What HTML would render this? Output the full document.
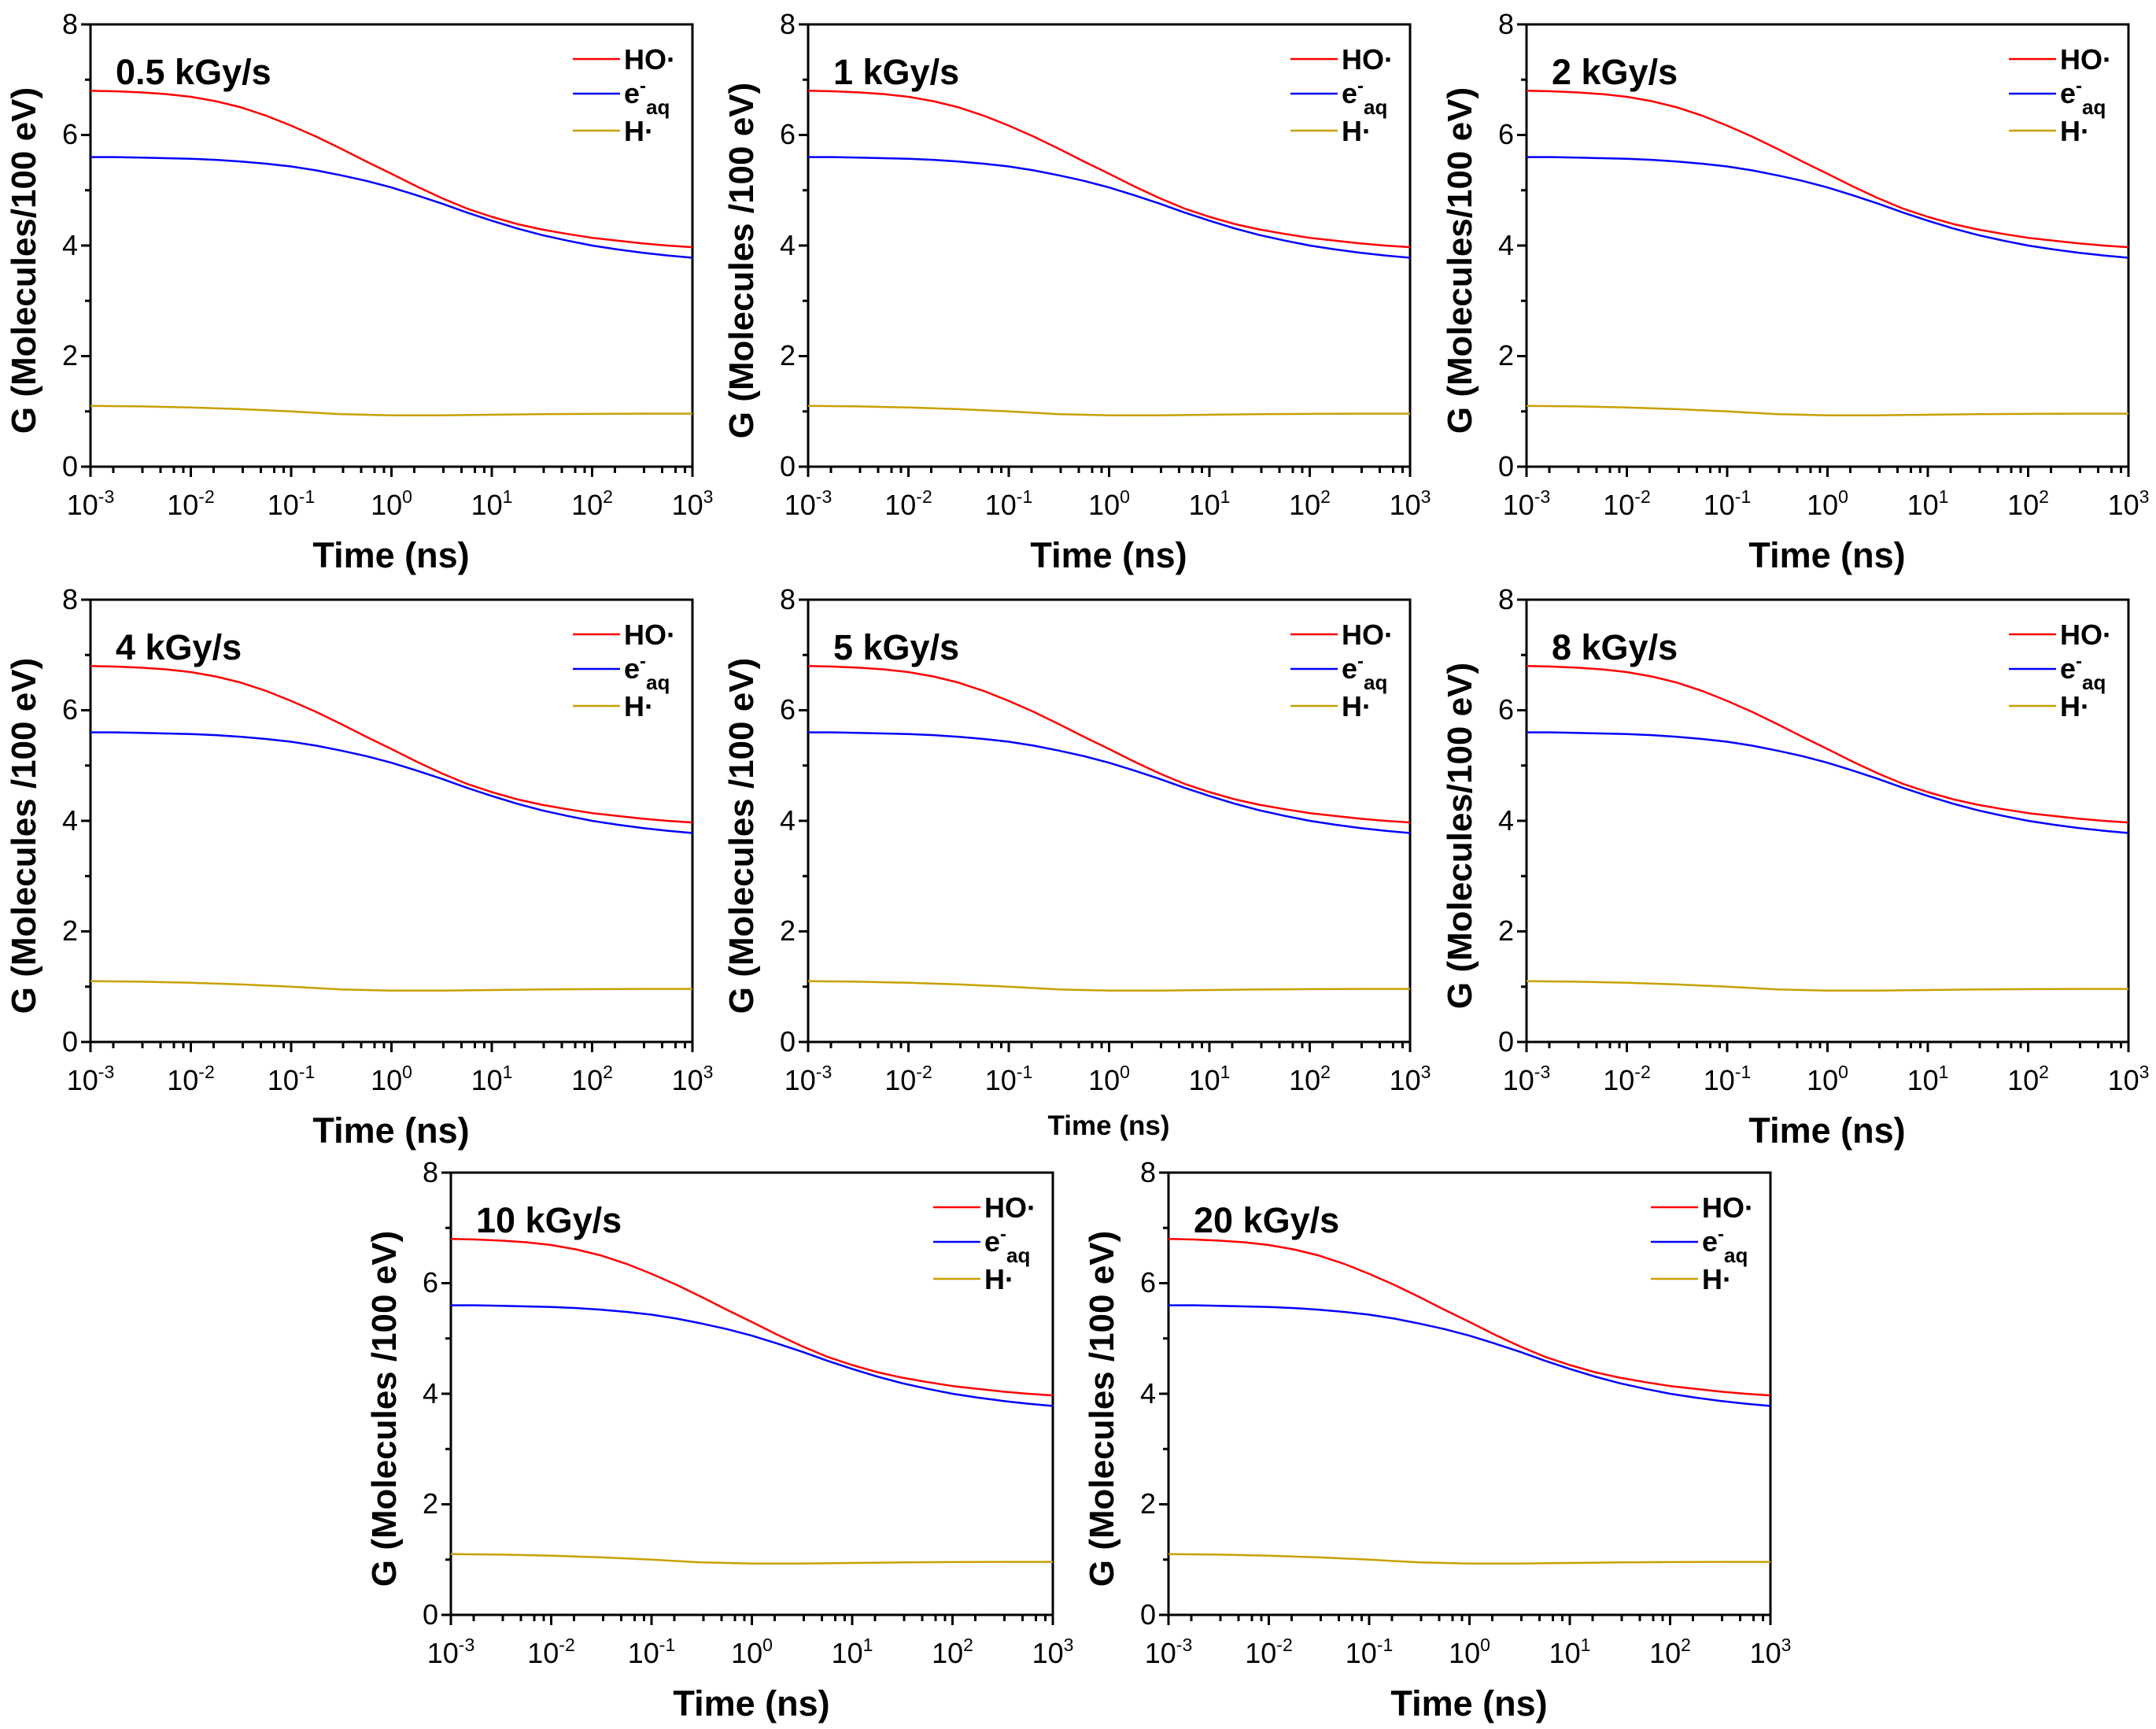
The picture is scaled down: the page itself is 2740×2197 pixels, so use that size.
<!DOCTYPE html>
<html><head><meta charset="utf-8"><style>
html,body{margin:0;padding:0;background:#fff}
svg{display:block;font-family:"Liberation Sans",Arial,sans-serif}
.tl{font-size:36px;fill:#000}
.ax{font-size:45px;font-weight:bold}
.yl{font-size:44px;font-weight:bold}
.lg{font-size:36px;font-weight:bold}
</style></head><body>
<svg width="2740" height="2197" viewBox="0 0 2740 2197" xmlns="http://www.w3.org/2000/svg">
<defs>
<g id="frame">
<rect x="0" y="0" width="765" height="562" fill="none" stroke="#000" stroke-width="3"/>
<path d="M0 0h-12M0 70.25h-7M0 140.5h-12M0 210.75h-7M0 281h-12M0 351.25h-7M0 421.5h-12M0 491.75h-7M0 562h-12" stroke="#000" stroke-width="3"/>
<path d="M0 562v13M127.5 562v13M255 562v13M382.5 562v13M510 562v13M637.5 562v13M765 562v13
M29 562v8M66 562v8M89 562v8M106 562v8M118 562v8
M156.5 562v8M193.5 562v8M216.5 562v8M233.5 562v8M245.5 562v8
M284 562v8M321 562v8M344 562v8M361 562v8M373 562v8
M411.5 562v8M448.5 562v8M471.5 562v8M488.5 562v8M500.5 562v8
M539 562v8M576 562v8M599 562v8M616 562v8M628 562v8
M666.5 562v8M703.5 562v8M726.5 562v8M743.5 562v8M755.5 562v8" stroke="#000" stroke-width="3"/>
<g class="tl" text-anchor="end">
<text x="-16" y="574">0</text><text x="-16" y="293">4</text><text x="-16" y="433">2</text><text x="-16" y="152">6</text><text x="-16" y="12">8</text>
</g>
<g class="tl" text-anchor="middle">
<text x="0" y="623">10<tspan font-size="23" dy="-15">-3</tspan></text>
<text x="127.5" y="623">10<tspan font-size="23" dy="-15">-2</tspan></text>
<text x="255" y="623">10<tspan font-size="23" dy="-15">-1</tspan></text>
<text x="382.5" y="623">10<tspan font-size="23" dy="-15">0</tspan></text>
<text x="510" y="623">10<tspan font-size="23" dy="-15">1</tspan></text>
<text x="637.5" y="623">10<tspan font-size="23" dy="-15">2</tspan></text>
<text x="765" y="623">10<tspan font-size="23" dy="-15">3</tspan></text>
</g>
<polyline points="0,84.3 31.9,85 63.8,86.4 95.6,88.5 127.5,92 159.4,97.6 191.3,105.4 223.1,115.9 255,128.6 286.9,142.6 318.8,158.1 350.6,174.2 382.5,189.7 414.4,205.8 446.3,220.6 478.1,233.9 510,244.5 541.9,253.6 573.8,260.6 605.6,266.2 637.5,271.2 669.4,274.7 701.3,278.2 733.1,281 765,283.1" fill="none" stroke="#f00" stroke-width="2.5" stroke-linejoin="round"/>
<polyline points="0,168.6 31.9,168.6 63.8,169.3 95.6,170 127.5,170.7 159.4,172.1 191.3,174.2 223.1,177 255,180.5 286.9,185.5 318.8,191.8 350.6,198.8 382.5,207.2 414.4,217.1 446.3,227.6 478.1,238.9 510,249.4 541.9,259.2 573.8,267.7 605.6,274.7 637.5,281 669.4,285.9 701.3,290.1 733.1,293.6 765,296.5" fill="none" stroke="#00f" stroke-width="2.5" stroke-linejoin="round"/>
<polyline points="0,484.7 63.75,485.4 127.5,486.8 191.25,488.9 255,491.8 318.75,495.3 382.5,496.7 446.25,496.7 510,496 573.75,495.3 637.5,494.9 701.25,494.6 765,494.6" fill="none" stroke="#c8a000" stroke-width="2.5"/>
<path d="M613 44h60" stroke="#f00" stroke-width="2.5"/>
<path d="M613 88h60" stroke="#00f" stroke-width="2.5"/>
<path d="M613 135h60" stroke="#c8a000" stroke-width="2.5"/>
<g class="lg"><text x="678" y="57">HO·</text><text x="678" y="100">e<tspan font-size="24" dy="-14">-</tspan><tspan font-size="26" dy="28">aq</tspan></text><text x="678" y="148">H·</text></g>
</g>
</defs>

<g transform="translate(115,31)"><use href="#frame"/><text class="ax" x="32" y="76">0.5 kGy/s</text>
<text class="ax" x="382" y="690" text-anchor="middle">Time (ns)</text>
<text class="yl" transform="translate(-70,300) rotate(-90)" text-anchor="middle">G (Molecules/100 eV)</text></g>

<g transform="translate(1027,31)"><use href="#frame"/><text class="ax" x="32" y="76">1 kGy/s</text>
<text class="ax" x="382" y="690" text-anchor="middle">Time (ns)</text>
<text class="yl" transform="translate(-70,300) rotate(-90)" text-anchor="middle">G (Molecules /100 eV)</text></g>

<g transform="translate(1940,31)"><use href="#frame"/><text class="ax" x="32" y="76">2 kGy/s</text>
<text class="ax" x="382" y="690" text-anchor="middle">Time (ns)</text>
<text class="yl" transform="translate(-70,300) rotate(-90)" text-anchor="middle">G (Molecules/100 eV)</text></g>

<g transform="translate(115,762)"><use href="#frame"/><text class="ax" x="32" y="76">4 kGy/s</text>
<text class="ax" x="382" y="690" text-anchor="middle">Time (ns)</text>
<text class="yl" transform="translate(-70,300) rotate(-90)" text-anchor="middle">G (Molecules /100 eV)</text></g>

<g transform="translate(1027,762)"><use href="#frame"/><text class="ax" x="32" y="76">5 kGy/s</text>
<text class="ax" x="382" y="680" text-anchor="middle" style="font-size:35px">Time (ns)</text>
<text class="yl" transform="translate(-70,300) rotate(-90)" text-anchor="middle">G (Molecules /100 eV)</text></g>

<g transform="translate(1940,762)"><use href="#frame"/><text class="ax" x="32" y="76">8 kGy/s</text>
<text class="ax" x="382" y="690" text-anchor="middle">Time (ns)</text>
<text class="yl" transform="translate(-70,300) rotate(-90)" text-anchor="middle">G (Molecules/100 eV)</text></g>

<g transform="translate(573,1490)"><use href="#frame"/><text class="ax" x="32" y="76">10 kGy/s</text>
<text class="ax" x="382" y="690" text-anchor="middle">Time (ns)</text>
<text class="yl" transform="translate(-70,300) rotate(-90)" text-anchor="middle">G (Molecules /100 eV)</text></g>

<g transform="translate(1485,1490)"><use href="#frame"/><text class="ax" x="32" y="76">20 kGy/s</text>
<text class="ax" x="382" y="690" text-anchor="middle">Time (ns)</text>
<text class="yl" transform="translate(-70,300) rotate(-90)" text-anchor="middle">G (Molecules /100 eV)</text></g>
</svg>
</body></html>
